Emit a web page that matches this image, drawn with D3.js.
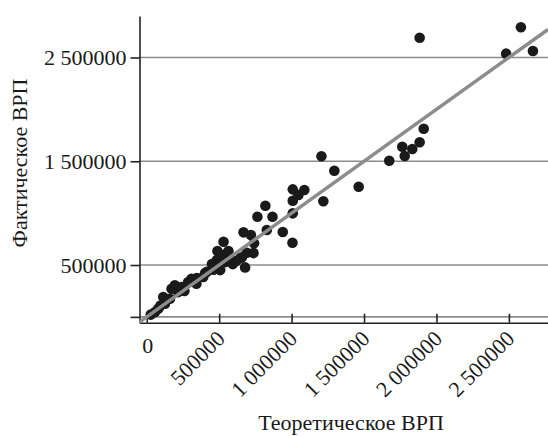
<!DOCTYPE html>
<html>
<head>
<meta charset="utf-8">
<script src="https://cdn.jsdelivr.net/npm/d3@7"></script>
<style>
  body { margin: 0; background: #fff; }
  svg text { font-family: "Liberation Serif", "Times New Roman", serif; fill: #1a1a1a; }
</style>
</head>
<body>
<script>
const theorVRP = [1884000, 2583000, 2481000, 2666000, 1912000, 1764000, 1884000, 1833000, 1781000, 1674000,
  1206000, 1295000, 1463000, 1008000, 1088000, 1047000, 1008000, 1219000, 1008000, 939000,
  1006000, 819000, 764000, 868000, 668000, 719000, 829000, 741000, 530000, 488000,
  564000, 691000, 645000, 594000, 679000, 484000, 450000, 507000, 415000, 540000,
  737000, 657000, 461000, 403000, 346000, 390000, 309000, 286000, 240000, 194000,
  171000, 114000, 126000, 79000, 57000, 217000, 343000, 160000, 617000, 576000,
  28000, 541000, 466000, 95000, 260000];
const factVRP = [2691000, 2792000, 2537000, 2563000, 1814000, 1640000, 1683000, 1618000, 1551000, 1505000,
  1548000, 1409000, 1255000, 1229000, 1223000, 1175000, 1120000, 1114000, 998000, 818000,
  715000, 1071000, 965000, 965000, 815000, 789000, 837000, 709000, 724000, 635000,
  635000, 618000, 564000, 509000, 477000, 548000, 509000, 451000, 435000, 600000,
  615000, 574000, 454000, 422000, 374000, 384000, 367000, 336000, 287000, 304000,
  271000, 191000, 126000, 78000, 46000, 239000, 319000, 175000, 538000, 567000,
  22000, 528000, 490000, 110000, 250000];

const xTicks = [0, 500000, 1000000, 1500000, 2000000, 2500000];
const yTicks = [0, 500000, 1500000, 2500000];
const fitSlope = 1, fitIntercept = 0;

const w = 548, h = 436;
const padL = 139.5, padT = 16, padR = 548, padB = 322.7;

const svg = d3.select("body").append("svg")
  .attr("width", w)
  .attr("height", h);

const x = d3.scaleLinear().domain([-50000, 2770000]).range([padL, padR]);
const y = d3.scaleLinear().domain([-56000, 2900000]).range([padB, padT]);

const fmt = v => v >= 1000000
  ? Math.floor(v / 1000000) + " " + String(v % 1000000).padStart(6, "0")
  : String(v);

// grid
svg.append("g").selectAll("line")
  .data(yTicks)
  .enter().append("line")
  .attr("x1", padL).attr("x2", padR)
  .attr("y1", d => y(d)).attr("y2", d => y(d))
  .attr("stroke", "#8c8c8c")
  .attr("stroke-width", 1.6);

// y axis
const yAxis = d3.axisLeft(y)
  .tickValues(yTicks)
  .tickSize(9)
  .tickSizeOuter(0)
  .tickPadding(4)
  .tickFormat(d => d === 0 ? "" : fmt(d));

const gy = svg.append("g")
  .attr("transform", "translate(" + padL + ",0)")
  .call(yAxis);
gy.selectAll("line, path").attr("stroke", "#222").attr("stroke-width", 1.6);
gy.selectAll("text").style("font-size", "22px").attr("dy", "0.34em");

// x axis
const xAxis = d3.axisBottom(x)
  .tickValues(xTicks)
  .tickSize(-9)
  .tickSizeOuter(0)
  .tickFormat("");

const gx = svg.append("g")
  .attr("transform", "translate(0," + padB + ")")
  .call(xAxis);
gx.selectAll("line, path").attr("stroke", "#222").attr("stroke-width", 1.6);

svg.append("g").selectAll("text")
  .data(xTicks)
  .enter().append("text")
  .style("font-size", "22px")
  .attr("text-anchor", d => d === 0 ? "middle" : "end")
  .attr("transform", d => d === 0
    ? "translate(" + (x(d) + 1) + ",353)"
    : "translate(" + (x(d) + 7) + ",340) rotate(-45)")
  .text(fmt);

// points
svg.append("g").selectAll("circle")
  .data(theorVRP.map((v, i) => [v, factVRP[i]]))
  .enter().append("circle")
  .attr("cx", d => x(d[0]))
  .attr("cy", d => y(d[1]))
  .attr("r", 5.3)
  .attr("fill", "#1a1a1a");

// fitted line
const xs = x.domain();
svg.append("line")
  .attr("x1", x(xs[0])).attr("y1", y(fitIntercept + fitSlope * xs[0]))
  .attr("x2", x(xs[1])).attr("y2", y(fitIntercept + fitSlope * xs[1]))
  .attr("stroke", "#8c8c8c")
  .attr("stroke-width", 3.5);

// titles
svg.append("text")
  .attr("x", 351).attr("y", 430)
  .attr("text-anchor", "middle")
  .style("font-size", "22px")
  .text("Теоретическое ВРП");

svg.append("text")
  .attr("transform", "translate(27,163) rotate(-90)")
  .attr("text-anchor", "middle")
  .style("font-size", "22px")
  .text("Фактическое ВРП");
</script>
</body>
</html>
